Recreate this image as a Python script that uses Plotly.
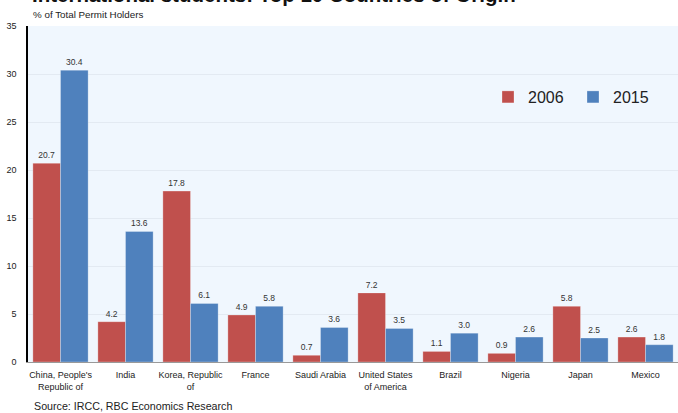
import plotly.graph_objects as go

categories = ["China, People's<br>Republic of", "India", "Korea, Republic<br>of", "France",
              "Saudi Arabia", "United States<br>of America", "Brazil", "Nigeria", "Japan", "Mexico"]
values_2006 = [20.7, 4.2, 17.8, 4.9, 0.7, 7.2, 1.1, 0.9, 5.8, 2.6]
values_2015 = [30.4, 13.6, 6.1, 5.8, 3.6, 3.5, 3.0, 2.6, 2.5, 1.8]

FONT = "Liberation Sans"
W, H = 678, 413
ML, MR, MT, MB = 28, 0, 26, 51
PH = H - MT - MB
PW = W - ML - MR

def py(p):
    return (H - MB - p) / PH

def px(p):
    return (p - ML) / PW

fig = go.Figure()
fig.add_trace(go.Bar(x=categories, y=values_2006, name="2006",
                     marker=dict(color="#C0504D", line=dict(color="rgba(255,255,255,0.35)", width=0.8)),
                     text=[f"{v:.1f}" for v in values_2006], textposition="outside",
                     textfont=dict(size=8.5, color="#333333", family=FONT), cliponaxis=False))
fig.add_trace(go.Bar(x=categories, y=values_2015, name="2015",
                     marker=dict(color="#4F81BD", line=dict(color="rgba(255,255,255,0.35)", width=0.8)),
                     text=[f"{v:.1f}" for v in values_2015], textposition="outside",
                     textfont=dict(size=8.5, color="#333333", family=FONT), cliponaxis=False))

fig.update_layout(
    width=W, height=H,
    margin=dict(l=ML, r=MR, t=MT, b=MB, autoexpand=False),
    barmode="group", bargap=0.15, bargroupgap=0,
    plot_bgcolor="#F0F7FE", paper_bgcolor="white",
    font=dict(family=FONT, color="#222222"),
    legend=dict(orientation="h", x=px(488), y=py(97), yanchor="middle", xanchor="left",
                font=dict(size=16, family=FONT, color="#222222"),
                bgcolor="rgba(0,0,0,0)", entrywidth=40, itemwidth=30),
    xaxis=dict(showline=True, linecolor="#999999", linewidth=1, ticks="",
               tickfont=dict(size=9, family=FONT, color="#222222"), showgrid=False,
               range=[-0.5, 9.5], ticklabelstandoff=4),
    yaxis=dict(range=[0, 35], dtick=5, showline=True, linecolor="black", linewidth=1.5,
               ticks="", showgrid=True, gridcolor="#E3EAF2", gridwidth=1,
               tickfont=dict(size=9, family=FONT, color="#222222"), zeroline=False,
               ticklabelstandoff=8),
    annotations=[
        dict(text="<b>International students: Top 10 Countries of Origin</b>", xref="paper", yref="paper",
             x=px(30), y=py(7.5), xanchor="left", yanchor="bottom", showarrow=False,
             font=dict(size=20.5, family=FONT, color="#111111")),
        dict(text="% of Total Permit Holders", xref="paper", yref="paper",
             x=px(31), y=py(15), xanchor="left", yanchor="middle", showarrow=False,
             font=dict(size=9.8, family=FONT, color="#222222")),
        dict(text="Source: IRCC, RBC Economics Research", xref="paper", yref="paper",
             x=px(32), y=py(406), xanchor="left", yanchor="middle", showarrow=False,
             font=dict(size=10.7, family=FONT, color="#222222")),
    ],
)

fig.write_html("out.html")
